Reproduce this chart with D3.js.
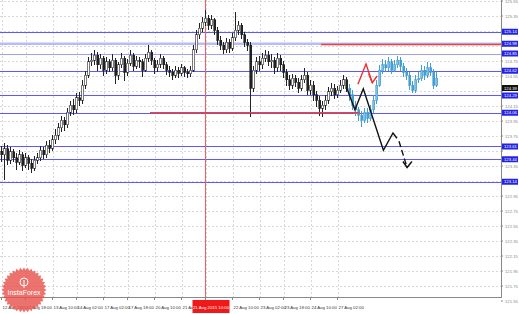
<!DOCTYPE html>
<html><head><meta charset="utf-8">
<script src="https://cdn.jsdelivr.net/npm/d3@7"></script>
<style>
html,body{margin:0;padding:0;background:#fff;}
svg{display:block;font-family:"Liberation Sans",Arial,sans-serif;}
</style></head><body>
<div id="chart"></div>
<script>
const W = 519, H = 314;
const plotRight = 501, plotBottom = 297;

// history (black bars) - open of each bar is previous close
const histFirstOpen = 123.55;
const histClose = [
  123.50,123.58,123.43,123.54,123.46,123.40,123.50,123.36,123.46,123.39,
  123.32,123.43,123.46,123.56,123.50,123.63,123.59,123.70,123.76,123.86,
  123.96,123.90,124.07,124.16,124.10,124.26,124.23,124.43,124.56,124.74,
  124.76,124.83,124.70,124.79,124.63,124.74,124.66,124.76,124.56,124.70,
  124.79,124.60,124.72,124.83,124.68,124.76,124.74,124.63,124.79,124.87,
  124.76,124.66,124.71,124.79,124.70,124.63,124.60,124.56,124.63,124.59,
  124.66,124.60,124.58,124.63,124.90,125.10,125.19,125.27,125.32,125.23,
  125.30,125.16,125.03,124.96,124.90,125.00,124.92,125.06,125.16,125.23,
  125.10,125.00,124.96,124.39,124.63,124.74,124.70,124.79,124.83,124.74,
  124.76,124.66,124.79,124.70,124.60,124.50,124.43,124.52,124.47,124.39,
  124.50,124.56,124.36,124.43,124.30,124.23,124.12,124.16,124.23,124.34,
  124.39,124.30,124.36,124.43,124.50,124.39
];
const histHigh = [
  123.62,123.66,123.63,123.60,123.58,123.52,123.56,123.54,123.52,123.50,
  123.44,123.48,123.53,123.62,123.60,123.68,123.70,123.76,123.84,123.92,
  124.02,124.01,124.12,124.22,124.24,124.32,124.34,124.50,124.62,124.80,
  124.86,124.90,124.87,124.85,124.82,124.80,124.78,124.84,124.79,124.74,
  124.86,124.82,124.78,124.90,124.86,124.82,124.81,124.78,124.84,124.96,
  124.90,124.79,124.76,124.84,124.82,124.74,124.68,124.65,124.68,124.67,
  124.71,124.69,124.65,124.68,124.96,125.16,125.26,125.34,125.43,125.36,
  125.36,125.33,125.20,125.08,125.00,125.06,125.04,125.12,125.40,125.28,
  125.26,125.14,125.05,125.00,124.68,124.80,124.82,124.86,124.90,124.88,
  124.84,124.80,124.86,124.83,124.75,124.65,124.56,124.58,124.57,124.52,
  124.56,124.66,124.60,124.50,124.48,124.35,124.28,124.22,124.30,124.40,
  124.46,124.44,124.42,124.50,124.56,124.54
];
const histLow = [
  123.40,123.16,123.36,123.38,123.40,123.30,123.36,123.28,123.32,123.30,
  123.26,123.29,123.38,123.42,123.44,123.46,123.52,123.55,123.64,123.70,
  123.80,123.82,123.86,124.02,124.03,124.06,124.15,124.18,124.38,124.52,
  124.68,124.70,124.62,124.64,124.55,124.58,124.60,124.62,124.45,124.50,
  124.66,124.48,124.55,124.68,124.62,124.64,124.66,124.54,124.60,124.74,
  124.70,124.58,124.60,124.66,124.64,124.56,124.54,124.50,124.52,124.53,
  124.55,124.54,124.52,124.54,124.60,124.86,125.04,125.14,125.22,125.16,
  125.18,125.10,124.96,124.90,124.84,124.86,124.86,124.88,125.02,125.10,
  125.04,124.94,124.88,124.00,124.34,124.58,124.62,124.65,124.74,124.68,
  124.66,124.58,124.60,124.62,124.52,124.42,124.36,124.38,124.40,124.32,
  124.35,124.46,124.30,124.30,124.22,124.14,124.02,124.00,124.10,124.18,
  124.28,124.24,124.26,124.32,124.38,124.34
];

// forecast (blue bars)
const foreClose = [
  124.30,124.16,124.10,124.03,123.96,124.07,123.99,124.10,124.23,124.43,
  124.63,124.70,124.66,124.74,124.63,124.70,124.76,124.68,124.60,124.56,
  124.43,124.36,124.50,124.52,124.63,124.56,124.66,124.60,124.43,124.52
];
const foreHigh = [
  124.44,124.36,124.22,124.14,124.08,124.12,124.12,124.16,124.30,124.50,
  124.70,124.78,124.76,124.80,124.78,124.76,124.82,124.80,124.72,124.66,
  124.60,124.48,124.56,124.60,124.70,124.68,124.74,124.72,124.64,124.60
];
const foreLow = [
  124.22,124.10,124.02,123.95,123.87,123.92,123.93,123.95,124.06,124.18,
  124.40,124.58,124.60,124.62,124.58,124.60,124.66,124.62,124.54,124.50,
  124.36,124.32,124.32,124.46,124.48,124.50,124.52,124.55,124.38,124.40
];

const priceTicks = [121.55,121.75,121.95,122.15,122.35,122.55,122.75,122.95,123.15,123.35,
  123.55,123.75,123.95,124.15,124.35,124.55,124.75,124.95,125.15,125.35,125.55];
const timeTickIdx = [0,8,17,25,34,42,51,60,68,77,86,94,103,112];
const timeTickLabels = ["12 Aug 2015","12 Aug 18:00","13 Aug 10:00","14 Aug 02:00","17 Aug 02:00",
  "17 Aug 18:00","20 Aug 10:00","21 Aug 02:00","","22 Aug 10:00","23 Aug 02:00",
  "23 Aug 18:00","24 Aug 10:00","27 Aug 02:00"];
const cursorIdx = 68, cursorLabel = "21 Aug 2015 10:00";

const blueLevels = [125.14,124.85,124.62,124.29,124.06,123.61,123.44,123.14];
const lightLevel = 124.98;
const redLevels = [{price:124.97, from:106.5, to:166.5}, {price:124.06, from:49.5, to:119.5}];
const lastPrice = 124.39;

// forecast arrows [index, price]
const blackPath = [[115.1,124.39],[117.8,124.10],[120.6,124.38],[127.3,123.56],[130.5,123.79],[131.8,123.72]];
const blackDash = [[132.5,123.68],[135.2,123.33]];
const blackHead = [[133.8,123.41],[135.2,123.33],[136.8,123.41]];
const redPath = [[118.8,124.44],[121.5,124.71],[123.6,124.46]];
const redHead = [[122.4,124.58],[123.6,124.46],[125.2,124.55]];

const x = d3.scaleLinear().domain([-0.5, 166.5]).range([0, plotRight]);
const y = d3.scaleLinear().domain([121.55, 125.55]).range([301, 1]);

const svg = d3.select("#chart").append("svg").attr("width", W).attr("height", H);
svg.append("rect").attr("width", W).attr("height", H).attr("fill", "#fff");

// grid
const grid = svg.append("g").attr("stroke", "#c8c8c8").attr("stroke-width", 0.7)
  .attr("stroke-dasharray", "2,2").attr("shape-rendering", "crispEdges");
grid.selectAll("line.h").data(priceTicks.filter(p => y(p) < plotBottom)).join("line").attr("class", "h")
  .attr("x1", 0).attr("x2", plotRight).attr("y1", d => Math.round(y(d)) + 0.5).attr("y2", d => Math.round(y(d)) + 0.5);
grid.selectAll("line.v").data(timeTickIdx).join("line").attr("class", "v")
  .attr("y1", 0).attr("y2", plotBottom).attr("x1", d => Math.round(x(d)) + 0.5).attr("x2", d => Math.round(x(d)) + 0.5);

// level lines
const lv = svg.append("g");
lv.append("line").attr("x1", 0).attr("x2", plotRight).attr("y1", y(lightLevel)).attr("y2", y(lightLevel))
  .attr("stroke", "#bcbcf4").attr("stroke-width", 2.5);
lv.selectAll("line.b").data(blueLevels).join("line").attr("class", "b")
  .attr("x1", 0).attr("x2", plotRight).attr("y1", d => Math.round(y(d)) + 0.5).attr("y2", d => Math.round(y(d)) + 0.5)
  .attr("stroke", d => d === 124.85 ? "#a0a0f0" : "#5a5aff").attr("stroke-width", 1);

// cursor line
svg.append("line").attr("x1", x(cursorIdx)).attr("x2", x(cursorIdx)).attr("y1", 0).attr("y2", plotBottom)
  .attr("stroke", "#f06060").attr("stroke-width", 1).attr("shape-rendering", "crispEdges");

// candles
const hist = histClose.map((c, i) => ({i, o: i ? histClose[i - 1] : histFirstOpen, h: histHigh[i], l: histLow[i], c}));
const n0 = hist.length;
const fore = foreClose.map((c, k) => ({i: n0 + k, o: k ? foreClose[k - 1] : histClose[n0 - 1], h: foreHigh[k], l: foreLow[k], c}));

function drawBars(data, col, upFill) {
  const g = svg.append("g").attr("shape-rendering", "crispEdges");
  g.selectAll("line").data(data).join("line")
    .attr("x1", d => x(d.i)).attr("x2", d => x(d.i))
    .attr("y1", d => y(d.h)).attr("y2", d => y(d.l))
    .attr("stroke", col).attr("stroke-width", 1);
  g.selectAll("rect").data(data).join("rect")
    .attr("x", d => x(d.i) - 1).attr("width", 2)
    .attr("y", d => y(Math.max(d.o, d.c)))
    .attr("height", d => Math.max(1, Math.abs(y(d.o) - y(d.c))))
    .attr("fill", d => d.c >= d.o ? upFill : col)
    .attr("stroke", col).attr("stroke-width", 0.6);
}
drawBars(hist, "#222", "#fff");
drawBars(fore, "#449fd0", "#7dbfe2");

// red levels
svg.append("g").selectAll("line").data(redLevels).join("line")
  .attr("x1", d => x(d.from)).attr("x2", d => Math.min(plotRight, x(d.to)))
  .attr("y1", d => y(d.price)).attr("y2", d => y(d.price))
  .attr("stroke", "#e8423c").attr("stroke-width", 1.5);

// forecast arrows
const line = d3.line().x(d => x(d[0])).y(d => y(d[1]));
svg.append("path").attr("d", line(blackPath)).attr("fill", "none").attr("stroke", "#111").attr("stroke-width", 1.4);
svg.append("path").attr("d", line(blackDash)).attr("fill", "none").attr("stroke", "#111").attr("stroke-width", 1.4).attr("stroke-dasharray", "6,3");
svg.append("path").attr("d", line(blackHead)).attr("fill", "none").attr("stroke", "#111").attr("stroke-width", 1.4);
svg.append("path").attr("d", line(redPath)).attr("fill", "none").attr("stroke", "#f03030").attr("stroke-width", 1.4);
svg.append("path").attr("d", line(redHead)).attr("fill", "none").attr("stroke", "#f03030").attr("stroke-width", 1.4);

// frame
svg.append("path").attr("d", `M0,${plotBottom + 0.5}H${plotRight + 0.5}V0`)
  .attr("fill", "none").attr("stroke", "#888").attr("stroke-width", 1).attr("shape-rendering", "crispEdges");

// right axis (tick labels hidden behind a price tag are skipped, as on the terminal)
const tagPrices = blueLevels.concat([lightLevel, lastPrice]);
const visibleTicks = priceTicks.filter(p => tagPrices.every(t => Math.abs(y(t) - Math.min(y(p), 301)) > 5));
const ax = svg.append("g").attr("font-size", "4.2px");
ax.selectAll("text").data(visibleTicks).join("text")
  .attr("x", 505).attr("y", d => Math.min(y(d), 301) + 1.5).attr("fill", "#888")
  .text(d => d.toFixed(2));
ax.selectAll("line").data(priceTicks).join("line")
  .attr("x1", plotRight).attr("x2", plotRight + 2).attr("y1", d => y(d)).attr("y2", d => y(d)).attr("stroke", "#888");

function priceTag(p, fill) {
  const g = svg.append("g");
  g.append("rect").attr("x", plotRight + 1).attr("y", y(p) - 3).attr("width", 16).attr("height", 6).attr("fill", fill);
  g.append("text").attr("x", 504).attr("y", y(p) + 1.5).attr("font-size", "4.2px").attr("fill", "#fff").text(p.toFixed(2));
}
blueLevels.forEach(p => priceTag(p, "#2424e6"));
priceTag(lightLevel, "#2424e6");
priceTag(lastPrice, "#111");

// bottom axis
const bx = svg.append("g").attr("font-size", "4.3px").attr("fill", "#333");
bx.selectAll("text").data(timeTickIdx).join("text")
  .attr("x", d => x(d) + 1).attr("y", 309).text((d, i) => timeTickLabels[i]);
bx.selectAll("line").data(timeTickIdx).join("line")
  .attr("x1", d => x(d)).attr("x2", d => x(d)).attr("y1", plotBottom).attr("y2", plotBottom + 3).attr("stroke", "#888");
const cx = x(cursorIdx);
svg.append("rect").attr("x", cx - 13).attr("y", 300).attr("width", 37).attr("height", 13).attr("fill", "#f01818");
svg.append("text").attr("x", cx + 5.5).attr("y", 309).attr("text-anchor", "middle").attr("font-size", "4.3px")
  .attr("fill", "#fff").text(cursorLabel);

// watermark logo
const logo = svg.append("g").attr("transform", "translate(24,290)").attr("opacity", 0.8);
const teeth = 36, pts = [];
for (let k = 0; k < teeth * 2; k++) {
  const r = k % 2 ? 20 : 22.5, a = Math.PI * k / teeth;
  pts.push([r * Math.sin(a), -r * Math.cos(a)]);
}
logo.append("polygon").attr("points", pts.map(p => p.join(",")).join(" ")).attr("fill", "#e8504a");
logo.append("circle").attr("cy", -8).attr("r", 4).attr("fill", "none").attr("stroke", "#fff").attr("stroke-width", 1);
logo.append("line").attr("x1", 0).attr("x2", 0).attr("y1", -10).attr("y2", -2).attr("stroke", "#fff").attr("stroke-width", 1);
logo.append("text").attr("y", 5).attr("text-anchor", "middle").attr("font-size", "7px").attr("fill", "#fff").text("InstaForex");
</script>
</body></html>
